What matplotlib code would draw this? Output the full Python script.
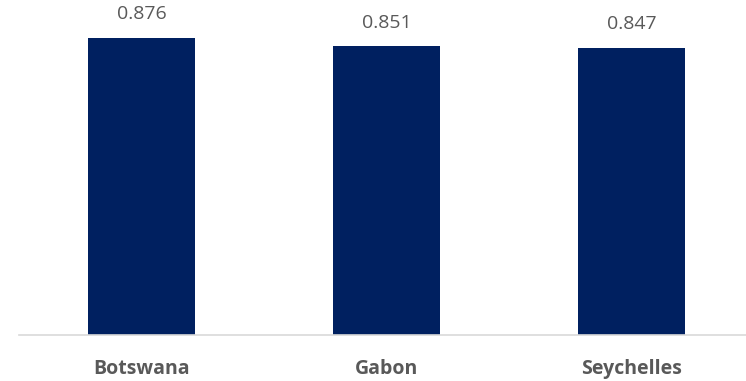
import matplotlib.pyplot as plt

countries = ["Botswana", "Gabon", "Seychelles"]
values = [0.876, 0.851, 0.847]

plt.rcParams["font.family"] = ["Open Sans", "DejaVu Sans"]

fig = plt.figure(figsize=(7.46, 3.81), dpi=100)
# axes run slightly past the right edge, like the original layout
ax = fig.add_axes([19 / 746, 46 / 381, 735 / 746, 335 / 381])

x = range(len(countries))
bars = ax.bar(x, values, width=0.435, color="#002060")

ax.set_xlim(-0.5, len(countries) - 0.5)
ax.set_ylim(0, 0.988)

for b, v in zip(bars, values):
    ax.annotate(f"{v:.3f}", (b.get_x() + b.get_width() / 2, v),
                xytext=(0, 13.5), textcoords="offset points",
                ha="center", va="baseline", fontsize=14, color="#595959")

ax.set_xticks(list(x))
ax.set_xticklabels(countries, fontsize=14, fontweight="bold", color="#595959")
ax.tick_params(axis="x", length=0, pad=17)
ax.set_yticks([])

for s in ["top", "right", "left"]:
    ax.spines[s].set_visible(False)
ax.spines["bottom"].set_color("#d9d9d9")
ax.spines["bottom"].set_linewidth(1.2)

fig.savefig("out.png", dpi=100)
